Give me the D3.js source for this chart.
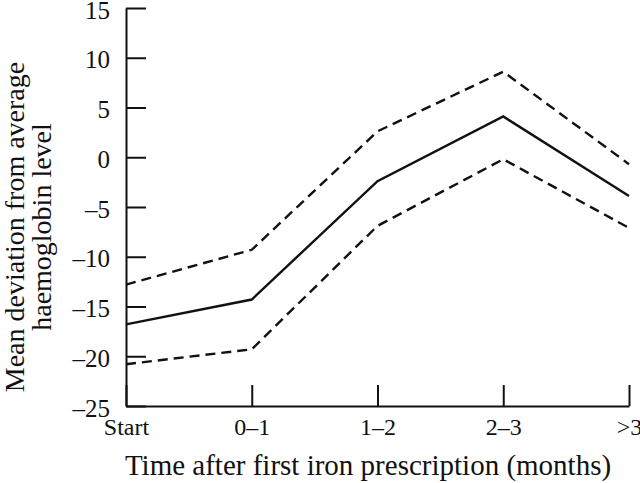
<!DOCTYPE html>
<html>
<head>
<meta charset="utf-8">
<script src="https://cdn.jsdelivr.net/npm/d3@7"></script>
<style>
  html, body { margin: 0; padding: 0; background: #fff; }
  svg { display: block; font-family: "Liberation Serif", "Times New Roman", serif; }
</style>
</head>
<body>
<svg id="chart" width="640" height="483"></svg>
<script>
const categories = ["Start", "0\u20131", "1\u20132", "2\u20133", ">3"];
const meanValues  = [-16.8, -14.3, -2.4, 4.1, -3.9];
const upperValues = [-12.8, -9.3, 2.6, 8.6, -0.7];
const lowerValues = [-20.8, -19.3, -6.9, -0.2, -7.1];
const yTicks = [15, 10, 5, 0, -5, -10, -15, -20, -25];
const yTickLabels = ["15", "10", "5", "0", "\u20135", "\u201310", "\u201315", "\u201320", "\u201325"];
const xTitle = "Time after first iron prescription (months)";
const yTitleLines = ["Mean deviation from average", "haemoglobin level"];

const svg = d3.select("#chart");
const ink = "#111";

const x = d3.scalePoint().domain(categories).range([126, 629]).padding(0);
const y = d3.scaleLinear().domain([-25, 15]).range([406, 8]);

// Y axis
const yAxis = d3.axisLeft(y)
  .tickValues(yTicks)
  .tickFormat(d => yTickLabels[yTicks.indexOf(d)])
  .tickSizeInner(-20)
  .tickSizeOuter(0)
  .tickPadding(16);
const gy = svg.append("g").attr("transform", "translate(126,0)").call(yAxis);
gy.attr("font-size", 25).attr("font-family", "Liberation Serif");
gy.select(".domain").attr("stroke", ink).attr("stroke-width", 2);
gy.selectAll(".tick line").attr("stroke", ink).attr("stroke-width", 2);
gy.selectAll(".tick text")
  .attr("fill", ink)
  .style("font-size", "25px")
  .attr("dy", "0.4em");

// X axis
const xAxis = d3.axisBottom(x)
  .tickSizeInner(-21)
  .tickSizeOuter(0)
  .tickPadding(12);
const gx = svg.append("g").attr("transform", "translate(0,406)").call(xAxis);
gx.attr("font-size", 24).attr("font-family", "Liberation Serif");
gx.select(".domain").attr("stroke", ink).attr("stroke-width", 2);
gx.selectAll(".tick line").attr("stroke", ink).attr("stroke-width", 2);
gx.selectAll(".tick text")
  .attr("fill", ink)
  .style("font-size", "24px")
  .attr("y", 12)
  .attr("dy", "0.71em");

// Lines
const line = d3.line()
  .x((d, i) => x(categories[i]))
  .y(d => y(d));

svg.append("path").datum(upperValues)
  .attr("d", line).attr("fill", "none").attr("stroke", ink)
  .attr("stroke-width", 2.4).attr("stroke-dasharray", "10,6");
svg.append("path").datum(lowerValues)
  .attr("d", line).attr("fill", "none").attr("stroke", ink)
  .attr("stroke-width", 2.4).attr("stroke-dasharray", "10,6");
svg.append("path").datum(meanValues)
  .attr("d", line).attr("fill", "none").attr("stroke", ink)
  .attr("stroke-width", 2.4);

// Titles
svg.append("text")
  .attr("x", 368).attr("y", 475)
  .attr("text-anchor", "middle")
  .style("font-size", "29px")
  .attr("fill", ink)
  .text(xTitle);

const yt = svg.append("text")
  .attr("transform", "translate(24,227) rotate(-90)")
  .attr("text-anchor", "middle")
  .style("font-size", "28px")
  .attr("fill", ink);
yTitleLines.forEach((t, i) => {
  yt.append("tspan").attr("x", 0).attr("y", i * 27).text(t);
});
</script>
</body>
</html>
